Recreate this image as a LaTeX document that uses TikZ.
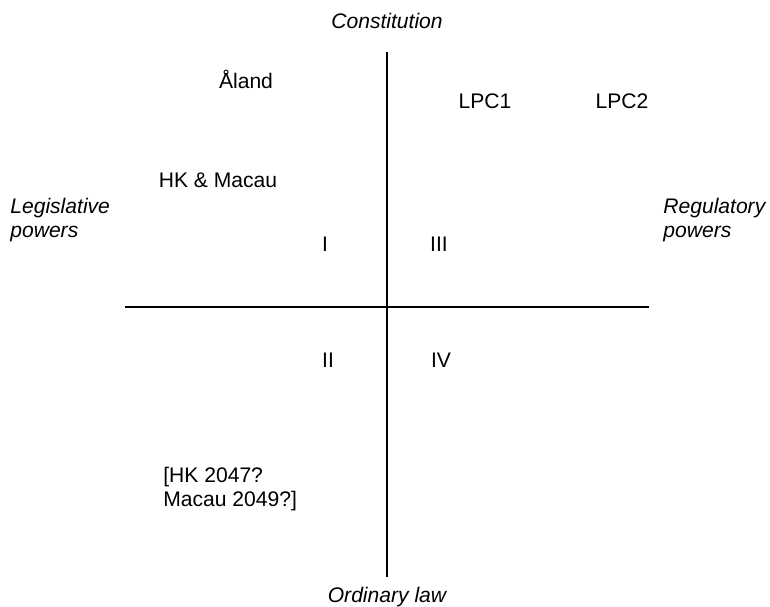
\documentclass[tikz,border=0pt]{standalone}
\usepackage{fontspec}
\setmainfont{Liberation Sans}
\begin{document}
\begin{tikzpicture}[x=0.02cm,y=-0.02cm,
  every node/.style={inner sep=0pt, font=\fontsize{12}{13.6}\selectfont},
  axislbl/.style={font=\fontsize{12}{13.6}\selectfont\itshape, align=left},
  axisline/.style={line width=1.1pt}]
  \useasboundingbox (0,0) rectangle (770,606);
  % axes
  \coordinate (top) at (387,52);
  \coordinate (bottom) at (387,577);
  \coordinate (left) at (125,307);
  \coordinate (right) at (649,307);
  \draw [axisline] (top) -- (bottom);
  \draw [axisline] (left) -- (right);
  % axis labels
  \node [axislbl, anchor=base] (consti) at (387,28) {Constitution};
  \node [axislbl, anchor=base] (ordlaw) at (387,602) {Ordinary law};
  \node [axislbl, anchor=base west] (legis) at (10,237) {Legislative\\powers};
  \node [axislbl, anchor=base west] (regul) at (663,237) {Regulatory\\powers};
  % quadrants
  \node [anchor=base] (q1) at (325,251) {I};
  \node [anchor=base] (q3) at (439,251) {III};
  \node [anchor=base] (q2) at (328,367) {II};
  \node [anchor=base] (q4) at (441,367) {IV};
  % cases
  \node [anchor=base] (aland) at (246,88) {Åland};
  \node [anchor=base] (lpc1) at (485,108) {LPC1};
  \node [anchor=base] (lpc2) at (622,108) {LPC2};
  \node [anchor=base] (hkmacau) at (218,187) {HK \& Macau};
  \node [anchor=base west, align=left] (hk2047) at (163,506) {[HK 2047?\\Macau 2049?]};
\end{tikzpicture}
\end{document}
